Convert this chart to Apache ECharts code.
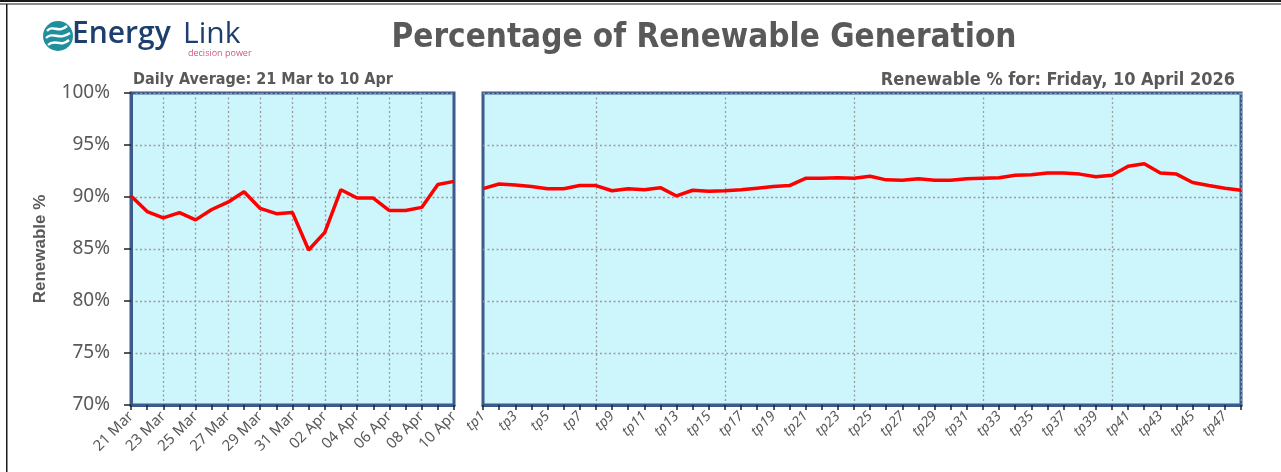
<!DOCTYPE html>
<html lang="en">

<head>
    <meta charset="UTF-8">
    <title>Percentage of Renewable Generation</title>
    <script src="https://cdn.jsdelivr.net/npm/echarts@6.0.0/dist/echarts.min.js"></script>
    <style>
        html, body { margin: 0; padding: 0; background: #fff; }
        #chart { width: 1281px; height: 472px; }
    </style>
</head>

<body>
    <div id="chart"></div>

    <script>
        // daily averages, 21 Mar - 10 Apr
        const dayLabels = ['21 Mar', '22 Mar', '23 Mar', '24 Mar', '25 Mar', '26 Mar', '27 Mar', '28 Mar', '29 Mar', '30 Mar', '31 Mar',
            '01 Apr', '02 Apr', '03 Apr', '04 Apr', '05 Apr', '06 Apr', '07 Apr', '08 Apr', '09 Apr', '10 Apr'];
        const dailyPct = [90.1, 88.6, 88.0, 88.5, 87.8, 88.8, 89.5, 90.5, 88.9, 88.4, 88.5,
            84.9, 86.6, 90.7, 89.9, 89.9, 88.7, 88.7, 89.0, 91.2, 91.5];

        // trading periods for Friday, 10 April 2026
        const tpLabels = [];
        for (let i = 1; i <= 48; i++) tpLabels.push('tp' + i);
        const tpPct = [90.8, 91.25, 91.15, 91.0, 90.8, 90.8, 91.1, 91.1, 90.6, 90.8, 90.7, 90.9,
            90.1, 90.65, 90.55, 90.6, 90.7, 90.85, 91.0, 91.1, 91.8, 91.8, 91.85, 91.8,
            92.0, 91.65, 91.6, 91.75, 91.6, 91.6, 91.75, 91.8, 91.85, 92.1, 92.15, 92.3,
            92.3, 92.2, 91.95, 92.1, 92.95, 93.2, 92.3, 92.2, 91.4, 91.1, 90.85, 90.65];

        const yTicks = { min: 70, max: 100, interval: 5 };

        const grey = '#595959';
        const frame = '#3B5B8C';
        const fill = '#CCF5FC';
        const gridLine = { type: [2, 2.5], color: '#9C9C9C', width: 1.3 };
        const narrow = '"Liberation Sans Narrow", "DejaVu Sans Condensed"';

        let chart = echarts.init(document.getElementById('chart'));

        function xAxisFor(labels, splitEvery, italic, fontSize, gridIndex) {
            return {
                type: 'category', gridIndex: gridIndex, data: labels, boundaryGap: false,
                axisLine: { show: true, lineStyle: { color: frame, width: 3 } },
                axisTick: { show: true, interval: 0, length: 5, lineStyle: { color: '#222', width: 1.5 } },
                axisLabel: {
                    interval: 1, rotate: 45, color: grey, fontSize: fontSize, margin: 9,
                    fontFamily: 'Noto Sans', fontStyle: italic ? 'italic' : 'normal'
                },
                splitLine: { show: true, interval: splitEvery, lineStyle: gridLine }
            };
        }

        let option = {
            animation: false,
            backgroundColor: '#fff',
            grid: [
                { left: 131, top: 93, width: 323, height: 312, show: true, backgroundColor: fill, borderColor: frame, borderWidth: 3 },
                { left: 483, top: 93, width: 758, height: 312, show: true, backgroundColor: fill, borderColor: frame, borderWidth: 3 }
            ],
            xAxis: [
                xAxisFor(dayLabels, (i) => i % 2 === 0 && i > 0 && i < dayLabels.length - 1, false, 15, 0),
                xAxisFor(tpLabels, (i) => i % 8 === 7, true, 14, 1)
            ],
            yAxis: [
                {
                    type: 'value', gridIndex: 0, min: yTicks.min, max: yTicks.max, interval: yTicks.interval,
                    name: 'Renewable %', nameLocation: 'middle', nameGap: 82, nameRotate: 90,
                    nameTextStyle: { color: grey, fontSize: 17, fontWeight: 'bold', fontFamily: 'Liberation Sans' },
                    axisLine: { show: true, lineStyle: { color: frame, width: 3 } },
                    axisTick: { show: true, length: 7, lineStyle: { color: '#222', width: 1.5 } },
                    axisLabel: { formatter: '{value}%', color: grey, fontSize: 19, margin: 21, fontFamily: 'Noto Sans' },
                    splitLine: { show: true, lineStyle: gridLine }
                },
                {
                    type: 'value', gridIndex: 1, min: yTicks.min, max: yTicks.max, interval: yTicks.interval,
                    axisLine: { show: false }, axisTick: { show: false }, axisLabel: { show: false },
                    splitLine: { show: true, lineStyle: gridLine }
                }
            ],
            series: [
                {
                    type: 'line', xAxisIndex: 0, yAxisIndex: 0, data: dailyPct, showSymbol: false,
                    lineStyle: { color: '#FF0000', width: 3.5 }, z: 5
                },
                {
                    type: 'line', xAxisIndex: 1, yAxisIndex: 1, data: tpPct, showSymbol: false,
                    lineStyle: { color: '#FF0000', width: 3.5 }, z: 5
                }
            ],
            graphic: [
                // page frame
                { type: 'rect', shape: { x: 0, y: 0, width: 1281, height: 2 }, style: { fill: '#1a1a1a' } },
                { type: 'rect', shape: { x: 0, y: 3.5, width: 1281, height: 1 }, style: { fill: '#1a1a1a' } },
                { type: 'rect', shape: { x: 6, y: 4, width: 1.5, height: 468 }, style: { fill: '#1a1a1a' } },
                // logo
                { type: 'circle', shape: { cx: 58, cy: 36, r: 15 }, style: { fill: '#1F8F9E' } },
                { type: 'bezierCurve', shape: { x1: 47, y1: 31, cpx1: 53, cpy1: 24, cpx2: 58, cpy2: 34, x2: 67, y2: 26 }, style: { stroke: '#fff', lineWidth: 2.4, fill: null } },
                { type: 'bezierCurve', shape: { x1: 46, y1: 38, cpx1: 53, cpy1: 31, cpx2: 59, cpy2: 41, x2: 70, y2: 33 }, style: { stroke: '#fff', lineWidth: 2.4, fill: null } },
                { type: 'bezierCurve', shape: { x1: 48, y1: 45, cpx1: 55, cpy1: 38, cpx2: 60, cpy2: 48, x2: 69, y2: 40 }, style: { stroke: '#fff', lineWidth: 2.4, fill: null } },
                { type: 'text', left: 72, top: 19, style: { text: 'Energy', fill: '#1D3F6E', font: '600 30px "Open Sans"' } },
                { type: 'text', left: 183, top: 19, style: { text: 'Link', fill: '#1D3F6E', font: '30px "Open Sans"' } },
                { type: 'text', left: 188, top: 49, style: { text: 'decision power', fill: '#D2577E', font: '9px "Open Sans"' } },
                // titles
                {
                    type: 'text', x: 704, y: 38, style: {
                        text: 'Percentage of Renewable Generation', fill: grey, align: 'center', verticalAlign: 'middle',
                        font: 'bold 33px ' + narrow
                    }
                },
                {
                    type: 'text', x: 133, y: 80, style: {
                        text: 'Daily Average: 21 Mar to 10 Apr', fill: grey, align: 'left', verticalAlign: 'middle',
                        font: 'bold 16px ' + narrow
                    }
                },
                {
                    type: 'text', x: 1235, y: 80, style: {
                        text: 'Renewable % for: Friday, 10 April 2026', fill: grey, align: 'right', verticalAlign: 'middle',
                        font: 'bold 18px ' + narrow
                    }
                }
            ]
        };
        chart.setOption(option);
    </script>
</body>

</html>
